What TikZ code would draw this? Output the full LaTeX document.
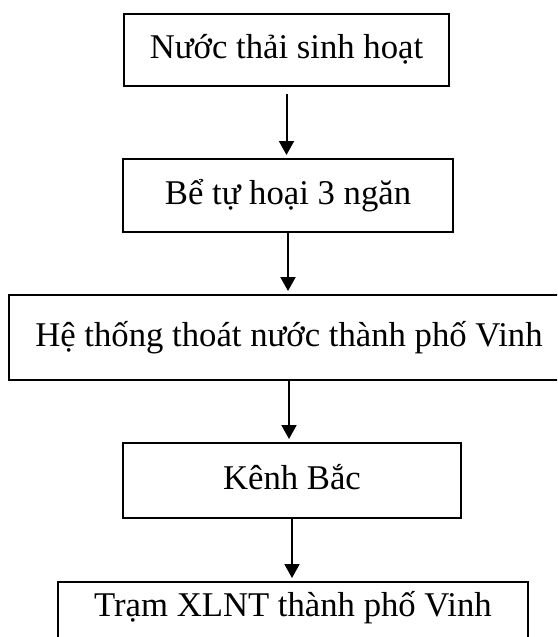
\documentclass[tikz,border=0pt]{standalone}
\usepackage{fontspec}
\setmainfont{Liberation Serif}
\usetikzlibrary{arrows.meta}
\tikzset{
	stagebox/.style={draw,line width=2pt,inner sep=0pt,text height=26pt,text depth=8.7pt},
	flow/.style={line width=2pt,-{Triangle[length=14pt,width=15pt]},shorten >=3pt}
}
\begin{document}
\begin{tikzpicture}[x=1pt,y=-1pt]
			\newcommand{\myfontstage}[1]{
				\fontsize{34.7}{40}\selectfont{#1}
			}%Page frame
			\useasboundingbox (0,0) rectangle (557,637);
			\clip (0,0) rectangle (557,637);
			%Centres of the stages
			\coordinate (center1) at (286.5,50.0);
			\coordinate (center2) at (288.0,195.5);
			\coordinate (center3) at (289.0,337.5);
			\coordinate (center4) at (292.0,480.5);
			\coordinate (center5) at (293.0,581.0);
			%Stages
			\node [stagebox,minimum width=325pt,minimum height=72pt] (box1) at (center1) {\myfontstage{Nước thải sinh hoạt}};
			\node [stagebox,minimum width=330pt,minimum height=73pt] (box2) at (center2) {\myfontstage{Bể tự hoại 3 ngăn}};
			\node [stagebox,minimum width=560pt,minimum height=85pt] (box3) at (center3) {\myfontstage{Hệ thống thoát nước thành phố Vinh}};
			\node [stagebox,minimum width=338pt,minimum height=75pt] (box4) at (center4) {\myfontstage{Kênh Bắc}};
			%Last stage runs past the bottom edge
			\node [stagebox,minimum width=470pt,inner ysep=8pt,text depth=40pt,anchor=north] (box5) at (center5) {\myfontstage{Trạm XLNT thành phố Vinh}};
			%Arrows between the stages
			\draw [flow,shorten <=7pt] (box1.south) -- (box1.south |- box2.north);
			\draw [flow] (box2.south) -- (box2.south |- box3.north);
			\draw [flow] (box3.south) -- (box3.south |- box4.north);
			\draw [flow] (box4.south) -- (box4.south |- box5.north);
\end{tikzpicture}
\end{document}
